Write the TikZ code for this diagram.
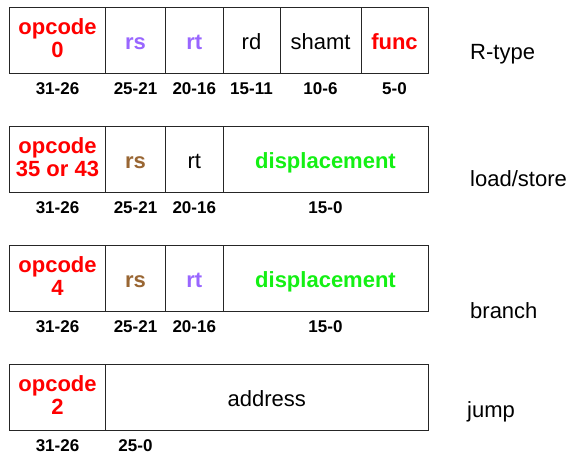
\documentclass[tikz,border=0pt]{standalone}
\usepackage{fontspec}
\setmainfont{Liberation Sans}
\usepackage{xcolor}
\usetikzlibrary{positioning}

\begin{document}
\begin{tikzpicture}[x=1bp,y=-1bp,
  field/.style={draw=black!85,line width=0.9bp,inner sep=0pt,outer sep=0pt,
    anchor=north west,minimum height=66bp,align=center,
    text height=18.5bp,text depth=0bp,
    font=\fontsize{22bp}{23.5bp}\selectfont},
  opc/.style={text=red,text height=36bp,text depth=1.4bp,font=\fontsize{22bp}{23.5bp}\selectfont\bfseries},
  bits/.style={inner sep=0pt,font=\fontsize{17bp}{17bp}\selectfont\bfseries},
  kind/.style={inner sep=0pt,anchor=west,font=\fontsize{22bp}{22bp}\selectfont}]
  \useasboundingbox (0,0) rectangle (569,454);
  \def\fld(#1,#2,#3)#4#5#6{
    \node[field,minimum width={(#2-#1)*1bp},#5] (#4) at (#1,#3) {#6};
  }
  \def\opr{red}
  \def\vio{rgb,255:red,153;green,102;blue,255}
  \def\brn{rgb,255:red,153;green,102;blue,51}
  \def\grn{rgb,255:red,20;green,240;blue,20}

  % R-type
  \fld(9.5,105.5,7.5){r1op}{opc}{opcode\\0}
  \fld(105.5,165.5,7.5){r1rs}{}{\bfseries\color{\vio}rs}
  \fld(165.5,223,7.5){r1rt}{}{\bfseries\color{\vio}rt}
  \fld(223,280,7.5){r1rd}{}{rd}
  \fld(280,361,7.5){r1sh}{}{shamt}
  \fld(361,428,7.5){r1fn}{}{\bfseries\color{\opr}func}
  \foreach \f/\b in {op/31-26,rs/25-21,rt/20-16,rd/15-11,sh/10-6,fn/5-0}
    \node[bits,below=8.7bp of r1\f] (b1\f) {\b};
  \node[kind] (rtype) at (470,54) {R-type};

  % load/store
  \fld(9.5,105.5,126.5){r2op}{opc}{opcode\\35 or 43}
  \fld(105.5,165.5,126.5){r2rs}{}{\bfseries\color{\brn}rs}
  \fld(165.5,223,126.5){r2rt}{}{rt}
  \fld(223,428,126.5){r2dp}{}{\bfseries\color{\grn}displacement}
  \foreach \f/\b in {op/31-26,rs/25-21,rt/20-16,dp/15-0}
    \node[bits,below=8.7bp of r2\f] (b2\f) {\b};
  \node[kind] (lsw) at (470,179) {load/store};

  % branch
  \fld(9.5,105.5,245.5){r3op}{opc}{opcode\\4}
  \fld(105.5,165.5,245.5){r3rs}{}{\bfseries\color{\brn}rs}
  \fld(165.5,223,245.5){r3rt}{}{\bfseries\color{\vio}rt}
  \fld(223,428,245.5){r3dp}{}{\bfseries\color{\grn}displacement}
  \foreach \f/\b in {op/31-26,rs/25-21,rt/20-16,dp/15-0}
    \node[bits,below=8.7bp of r3\f] (b3\f) {\b};
  \node[kind] (brn) at (470,311) {branch};

  % jump
  \fld(9.5,105.5,364.5){r4op}{opc}{opcode\\2}
  \fld(105.5,428,364.5){r4ad}{}{address}
  \node[bits,below=8.7bp of r4op] (b4op) {31-26};
  \node[bits] (b4ad) at (135.5,445.5) {25-0};
  \node[kind] (jmp) at (467,412) {jump};
\end{tikzpicture}
\end{document}
